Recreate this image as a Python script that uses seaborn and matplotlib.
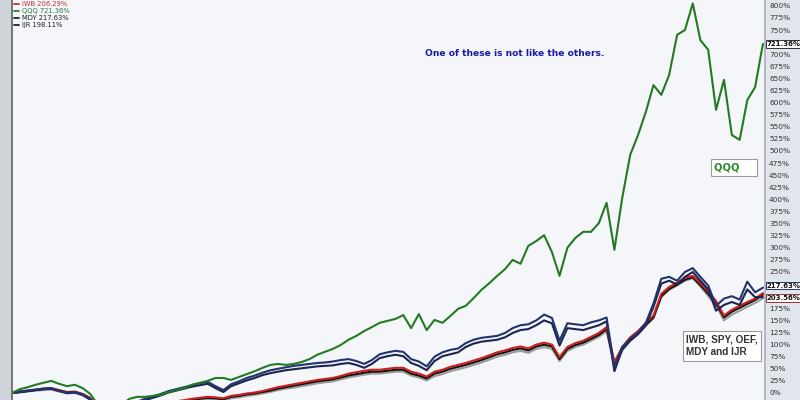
import matplotlib
matplotlib.use("Agg")
import matplotlib.pyplot as plt
from matplotlib.patches import Rectangle
from matplotlib.lines import Line2D
import seaborn as sns
import numpy as np
import pandas as pd

# bi-monthly closes, cumulative % change since the start of the chart
dates = pd.date_range("2007-07-01", periods=97, freq="2MS")

qqq = [0, 8, 12, 17, 21, 25, 19, 14, 17, 10,
       -2, -25, -39, -35, -23, -12, -8, -8, -6, -4,
       2, 6, 10, 17, 21, 25, 31, 31, 27, 33,
       39, 45, 52, 58, 60, 58, 60, 64, 70, 79,
       85, 91, 99, 110, 118, 128, 136, 145, 149, 153,
       161, 134, 163, 130, 151, 145, 159, 174, 180, 196,
       213, 227, 242, 256, 275, 267, 304, 314, 326, 291,
       242, 300, 320, 333, 333, 351, 393, 296, 403, 492,
       533, 581, 636, 616, 657, 740, 750, 805, 729, 709,
       585, 647, 533, 523, 605, 632, 721.36]

iwb = [0, 3, 5, 7, 9, 10, 6, 2, 3, -2,
       -10, -30, -45, -42, -35, -30, -27, -24, -22, -20,
       -18, -17, -15, -12, -10, -8, -9, -11, -6, -4,
       -1, 1, 4, 8, 12, 15, 18, 21, 24, 27,
       29, 31, 35, 40, 43, 46, 48, 48, 50, 52,
       52, 44, 40, 34, 44, 48, 54, 58, 62, 67,
       72, 78, 84, 88, 93, 96, 92, 100, 104, 100,
       74, 95, 103, 108, 116, 124, 136, 64, 95, 115,
       128, 145, 160, 205, 219, 228, 238, 242, 227, 209,
       190, 160, 172, 180, 188, 195, 206.29]

spy = [0, 2, 4, 6, 8, 9, 5, 1, 2, -3,
       -11, -31, -46, -43, -36, -31, -28, -26, -24, -22,
       -20, -19, -17, -14, -12, -10, -11, -13, -8, -6,
       -3, -1, 2, 5, 9, 12, 15, 18, 21, 24,
       26, 28, 32, 36, 39, 42, 44, 44, 46, 48,
       48, 40, 36, 30, 40, 44, 50, 54, 58, 63,
       68, 74, 80, 84, 89, 92, 88, 96, 100, 96,
       70, 91, 99, 104, 112, 120, 132, 60, 91, 111,
       124, 141, 156, 200, 215, 224, 234, 239, 223, 205,
       186, 156, 168, 176, 184, 192, 203.56]

oef = [0, 1, 3, 5, 6, 7, 3, -1, 0, -5,
       -13, -33, -48, -45, -38, -33, -30, -28, -26, -24,
       -22, -21, -20, -17, -15, -13, -14, -16, -11, -9,
       -6, -4, -1, 2, 6, 9, 11, 14, 17, 20,
       22, 24, 28, 32, 35, 38, 40, 40, 42, 44,
       44, 36, 32, 26, 35, 39, 45, 49, 53, 58,
       63, 69, 75, 79, 84, 87, 83, 91, 95, 91,
       66, 87, 95, 100, 108, 116, 128, 56, 88, 108,
       121, 139, 154, 198, 213, 222, 232, 237, 220, 200,
       181, 150, 162, 170, 178, 186, 196]

mdy = [0, 3, 5, 7, 9, 10, 5, 1, 2, -3,
       -12, -35, -55, -50, -35, -25, -18, -12, -7, -2,
       4, 8, 12, 16, 20, 23, 14, 6, 18, 24,
       31, 36, 42, 47, 50, 53, 56, 58, 60, 62,
       63, 65, 68, 70, 66, 60, 68, 80, 84, 87,
       85, 70, 65, 55, 75, 84, 89, 92, 103, 110,
       114, 116, 118, 124, 134, 140, 142, 150, 162, 155,
       108, 144, 142, 140, 146, 150, 156, 52, 95, 112,
       125, 145, 185, 236, 240, 232, 250, 258, 240, 222,
       180, 195, 200, 193, 230, 208, 217.63]

ijr = [0, 2, 4, 6, 8, 9, 4, 0, 1, -4,
       -14, -38, -58, -53, -38, -28, -21, -15, -10, -5,
       1, 5, 9, 13, 16, 19, 10, 2, 14, 20,
       26, 31, 37, 41, 44, 47, 49, 51, 53, 55,
       56, 57, 60, 62, 58, 52, 60, 72, 76, 79,
       76, 62, 56, 47, 66, 76, 80, 84, 95, 102,
       106, 108, 110, 115, 124, 130, 132, 140, 150, 144,
       98, 134, 132, 130, 135, 140, 148, 45, 90, 108,
       122, 140, 178, 226, 232, 224, 240, 250, 232, 214,
       170, 182, 188, 182, 214, 198, 198.11]

tickers = ["OEF", "SPY", "IWB", "IJR", "MDY", "QQQ"]
series = [oef, spy, iwb, ijr, mdy, qqq]
colors = {"OEF": "#9a9a9a", "SPY": "#111111", "IWB": "#cc2020",
          "IJR": "#1b2550", "MDY": "#22336e", "QQQ": "#237a23"}

df = pd.concat([pd.DataFrame({"date": dates, "pct": vals, "ticker": t})
                for t, vals in zip(tickers, series)], ignore_index=True)

sns.set_theme(style="white")
plt.rcParams["font.family"] = ["DejaVu Sans"]

fig = plt.figure(figsize=(8, 4), dpi=100, facecolor="#e2e5eb")
ax = fig.add_axes([12 / 800, 0, 753 / 800, 1])
ax.set_facecolor("#f4f6f9")

sns.lineplot(data=df, x="date", y="pct", hue="ticker", hue_order=tickers,
             palette=colors, legend=False, linewidth=1.5, ax=ax)

ax.set_ylim(-14.5, 812)
ax.set_xlim(dates[0], dates[-1] + pd.Timedelta(days=16))
ax.set_xlabel("")
ax.set_ylabel("")
ax.set_xticks([])

# right-hand scale; labels hidden under the last-value tags are left blank
ax.yaxis.tick_right()
yt = list(range(0, 801, 25))
hidden = {725, 225, 200}
ax.set_yticks(yt)
ax.set_yticklabels(["" if v in hidden else f"{v}%" for v in yt])
ax.tick_params(axis="y", labelsize=5.3, length=0, pad=3, labelcolor="#333333")
for s in ["top", "bottom"]:
    ax.spines[s].set_visible(False)
ax.spines["left"].set_color("#666666")
ax.spines["right"].set_color("#aab0bb")

# left grey strip
fig.patches.append(Rectangle((0, 0), 11 / 800, 1, transform=fig.transFigure,
                             facecolor="#cfd3da", edgecolor="none", zorder=0))

# last-value tags on the right axis
tags = [(qqq[-1], "#333333", 0), (mdy[-1], "#22336e", 1.5), (spy[-1], "#993333", -2.5)]
for val, ec, dy in tags:
    ax.annotate(f"{val:.2f}%", xy=(1.0, val), xycoords=("axes fraction", "data"),
                xytext=(1, dy), textcoords="offset points", fontsize=5.0,
                fontweight="bold", va="center", ha="left", color="#111111",
                bbox=dict(boxstyle="square,pad=0.12", fc="white", ec=ec, lw=0.7),
                annotation_clip=False)

# legend in the top-left corner
legend_items = [("IWB", iwb[-1], "#c03030"), ("QQQ", qqq[-1], "#2e7d32"),
                ("MDY", mdy[-1], "#222222"), ("IJR", ijr[-1], "#222222")]
for k, (name, val, c) in enumerate(legend_items):
    yy = 1 - (4 + k * 7.0) / 400
    fig.add_artist(Line2D([14 / 800, 19 / 800], [yy, yy], color=c, lw=1.3,
                          transform=fig.transFigure))
    fig.text(22 / 800, yy, f"{name} {val:.2f}%", color=c, fontsize=4.9,
             va="center", ha="left")

fig.text(515 / 800, 1 - 53 / 400, "One of these is not like the others.",
         color="#1a1aa8", fontsize=6.6, fontweight="bold", ha="center", va="center")

box = dict(boxstyle="square,pad=0.35", fc="white", ec="#9a9a9a", lw=0.8)
fig.text(714 / 800, 1 - 167 / 400, "QQQ    ", color="#2e8b2e", fontsize=7.2,
         fontweight="bold", ha="left", va="center", bbox=box)
fig.text(686 / 800, 1 - 346 / 400, "IWB, SPY, OEF,\nMDY and IJR", color="#333333",
         fontsize=7.2, fontweight="bold", ha="left", va="center", linespacing=1.3,
         bbox=box, family=["Liberation Sans", "DejaVu Sans"])

fig.savefig("out.png", dpi=100, facecolor=fig.get_facecolor())
